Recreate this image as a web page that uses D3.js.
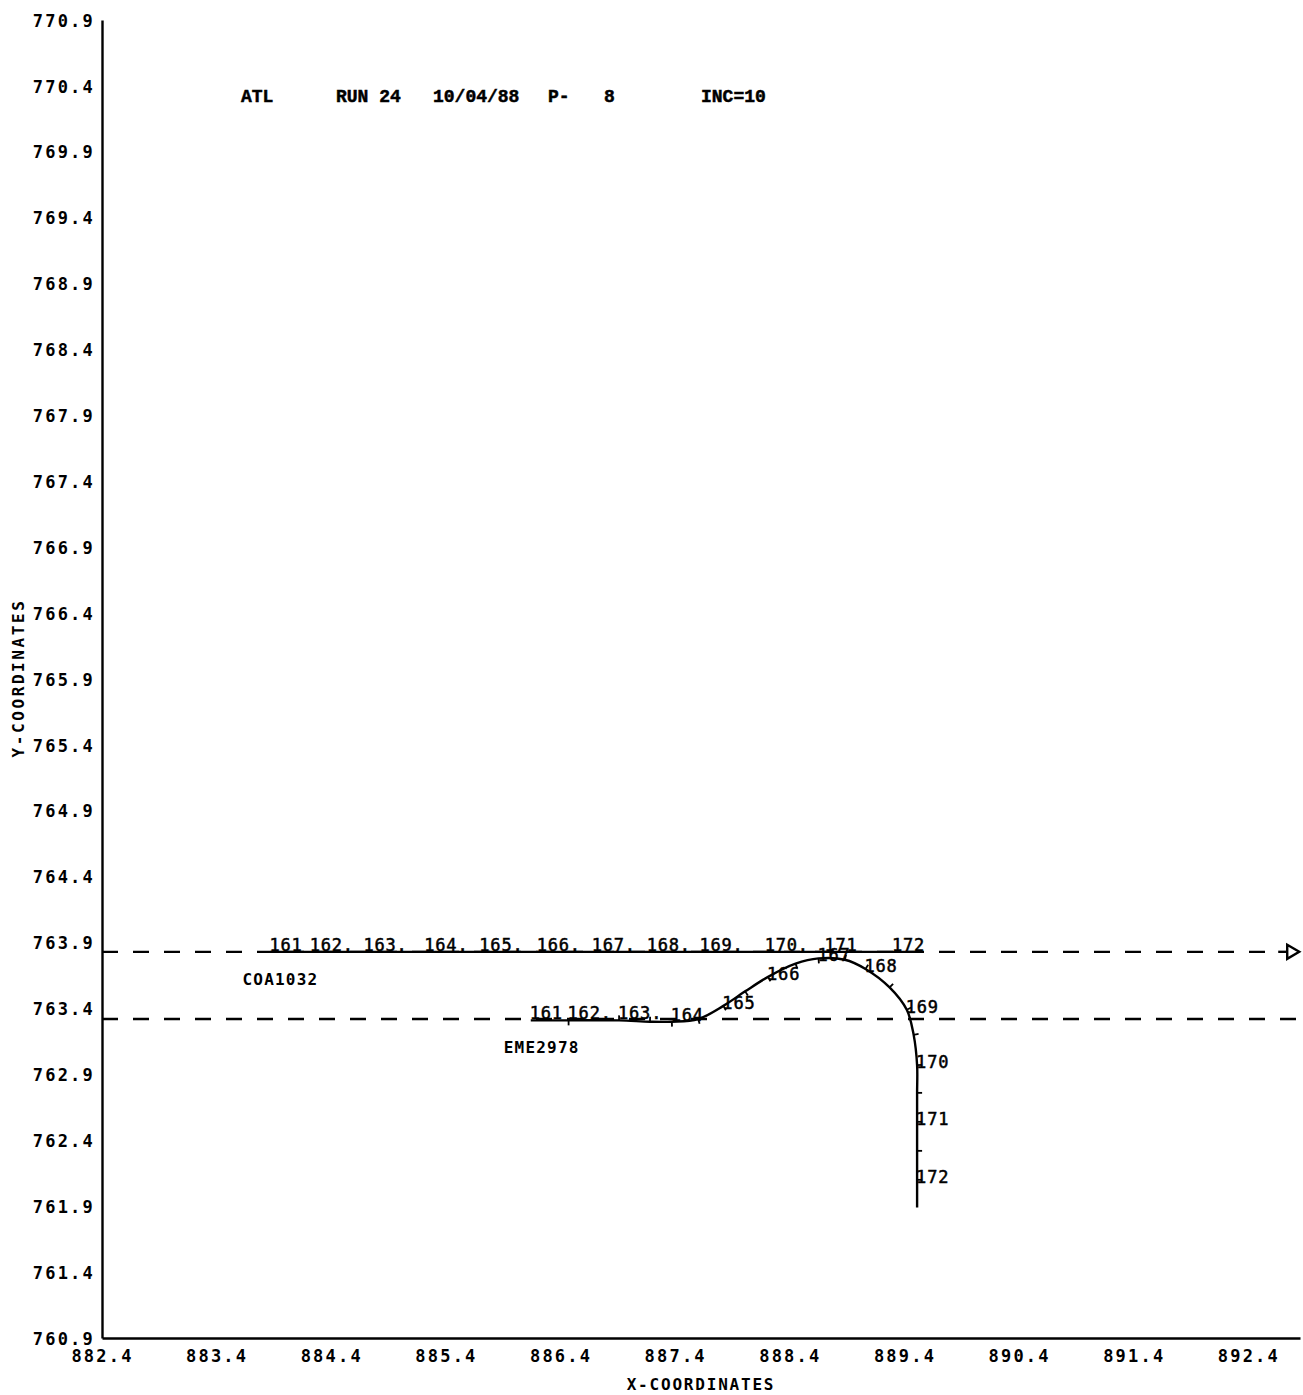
<!DOCTYPE html>
<html><head><meta charset="utf-8">
<script src="https://cdn.jsdelivr.net/npm/d3@7"></script>
<style>body{margin:0;background:#fff}</style>
</head><body>
<svg id="c" width="1303" height="1395"></svg>
<script>
// ---- data ----
const yTicks = [760.9,761.4,761.9,762.4,762.9,763.4,763.9,764.4,764.9,765.4,765.9,766.4,766.9,767.4,767.9,768.4,768.9,769.4,769.9,770.4,770.9];
const xTicks = [882.4,883.4,884.4,885.4,886.4,887.4,888.4,889.4,890.4,891.4,892.4];
const titleParts = ["ATL","RUN 24","10/04/88","P-","8","INC=10"];

// aircraft COA1032 (straight track)
const coaName = "COA1032";
const coaLabels = ["161","162.","163.","164.","165.","166.","167.","168.","169.","170.","171","172"];
const coaX = [883.87,884.22,884.69,885.22,885.70,886.20,886.68,887.16,887.62,888.19,888.71,889.30];
const coaY = [763.83,763.83,763.83,763.83,763.83,763.83,763.83,763.83,763.83,763.83,763.83,763.83];
const coaEnd = [889.55,763.83];
const coaProjEnd = 892.66;   // end of dashed projection (arrow)

// aircraft EME2978 (turning track)
const emeName = "EME2978";
const emeTrackX = [886.14,886.47,886.91,887.18,887.37,887.60,887.82,888.01,888.21,888.45,888.65,888.88,889.06,889.27,889.42,889.48,889.51,889.51,889.51,889.51,889.51,889.51];
const emeTrackY = [763.31,763.31,763.31,763.30,763.30,763.32,763.42,763.53,763.64,763.74,763.78,763.77,763.70,763.56,763.39,763.20,762.97,762.76,762.54,762.32,762.10,761.89];
const emeTrackLabel = ["161","162.","163.","","164","","165","","166","","167","","168","","169","","170","","171","","172",""];
const emeProjY = 763.32;
const emeProjEnd = 892.85;

// ---- chart ----
const svg = d3.select("#c");
const x = d3.scaleLinear().domain([882.4, 892.85]).range([102, 1300]);
const y = d3.scaleLinear().domain([760.9, 770.9]).range([1338, 20]);
const tickFont = "'DejaVu Sans Mono', monospace";
const SW = 2.4;

const gy = svg.append("g").attr("transform","translate(102,0)")
  .call(d3.axisLeft(y).tickValues(yTicks).tickSize(0).tickPadding(7).tickFormat(d3.format(".1f")));
gy.select(".domain").attr("stroke","#000").attr("stroke-width",SW);
gy.selectAll("text").attr("font-family",tickFont).attr("font-weight","bold")
  .attr("font-size",17).attr("letter-spacing",2.2).attr("fill","#000").attr("dy","0.36em");

const gx = svg.append("g").attr("transform","translate(0,1338)")
  .call(d3.axisBottom(x).tickValues(xTicks).tickSize(0).tickSizeOuter(0).tickPadding(12).tickFormat(d3.format(".1f")));
gx.select(".domain").attr("stroke","#000").attr("stroke-width",SW);
gx.selectAll("text").attr("font-family",tickFont).attr("font-weight","bold")
  .attr("font-size",17).attr("letter-spacing",2.2).attr("fill","#000");

svg.append("text").attr("x",701).attr("y",1390).attr("text-anchor","middle")
  .attr("font-family",tickFont).attr("font-weight","bold").attr("font-size",16).attr("letter-spacing",1.8)
  .text("X-COORDINATES");
svg.append("text").attr("transform","translate(24,678) rotate(-90)").attr("text-anchor","middle")
  .attr("font-family",tickFont).attr("font-weight","bold").attr("font-size",16).attr("letter-spacing",2.6)
  .text("Y-COORDINATES");

// title
const titleX = [241,336,433,548,604,701];
svg.append("g").selectAll("text").data(titleParts).join("text")
  .attr("x",(d,i)=>titleX[i]).attr("y",102)
  .attr("font-family","'Liberation Mono', monospace").attr("font-weight","bold").attr("font-size",18)
  .attr("stroke","#000").attr("stroke-width",0.5)
  .text(d=>d);

const dash = "16,15";
// projections (dashed)
svg.append("line").attr("x1",x(882.4)).attr("x2",x(coaProjEnd)).attr("y1",y(coaY[0])).attr("y2",y(coaY[0]))
  .attr("stroke","#000").attr("stroke-width",SW).attr("stroke-dasharray",dash);
svg.append("line").attr("x1",x(882.4)).attr("x2",x(emeProjEnd)).attr("y1",y(emeProjY)).attr("y2",y(emeProjY))
  .attr("stroke","#000").attr("stroke-width",SW).attr("stroke-dasharray",dash);
// arrow head
const ax = x(coaProjEnd), ay = y(coaY[0]);
svg.append("path").attr("d",`M${ax+9},${ay-7}L${ax+21},${ay}L${ax+9},${ay+7}Z`)
  .attr("fill","none").attr("stroke","#000").attr("stroke-width",SW);
svg.append("line").attr("x1",ax).attr("x2",ax+9).attr("y1",ay).attr("y2",ay).attr("stroke","#000").attr("stroke-width",SW);

// COA track
const coaPts = coaX.map((d,i)=>[d,coaY[i]]).concat([coaEnd]);
const line = d3.line().x(d=>x(d[0])).y(d=>y(d[1]));
svg.append("path").attr("d",line(coaPts)).attr("fill","none").attr("stroke","#000").attr("stroke-width",SW);
const dataFont = "'DejaVu Sans Mono', monospace";
svg.append("g").selectAll("text").data(coaLabels).join("text")
  .attr("x",(d,i)=>x(coaX[i])-1).attr("y",(d,i)=>y(coaY[i])-1)
  .attr("font-family",dataFont).attr("font-size",17).attr("letter-spacing",0.8)
  .attr("stroke","#000").attr("stroke-width",0.5)
  .text(d=>d);
svg.append("text").attr("x",x(coaX[0])-28).attr("y",y(coaY[0])+33)
  .attr("font-family",dataFont).attr("font-weight","bold").attr("font-size",16).attr("letter-spacing",1.2)
  .text(coaName);

// EME track
const emePts = emeTrackX.map((d,i)=>[d,emeTrackY[i]]);
const curve = d3.line().x(d=>x(d[0])).y(d=>y(d[1])).curve(d3.curveCatmullRom.alpha(0.5));
svg.append("path").attr("d",curve(emePts)).attr("fill","none").attr("stroke","#000").attr("stroke-width",SW);
// tick marks at track points
emePts.forEach((p,i)=>{
  if(i===0||i===emePts.length-1) return;
  const a=emePts[i-1], b=emePts[i+1];
  const dx=x(b[0])-x(a[0]), dy=y(b[1])-y(a[1]); const L=Math.hypot(dx,dy);
  let nx=-dy/L, ny=dx/L; if(nx<0){nx=-nx;ny=-ny;}
  const px=x(p[0]), py=y(p[1]);
  svg.append("line").attr("x1",px).attr("y1",py).attr("x2",px+nx*5).attr("y2",py+ny*5)
    .attr("stroke","#000").attr("stroke-width",1.8);
});
svg.append("g").selectAll("text").data(emeTrackLabel.map((l,i)=>({l,i})).filter(d=>d.l)).join("text")
  .attr("x",d=>x(emeTrackX[d.i])-1).attr("y",d=>y(emeTrackY[d.i])+(d.i>=6?3:-1))
  .attr("font-family",dataFont).attr("font-size",17).attr("letter-spacing",0.8)
  .attr("stroke","#000").attr("stroke-width",0.5)
  .text(d=>d.l);
svg.append("text").attr("x",x(emeTrackX[0])-27).attr("y",y(emeTrackY[0])+33)
  .attr("font-family",dataFont).attr("font-weight","bold").attr("font-size",16).attr("letter-spacing",1.2)
  .text(emeName);
</script>
</body></html>
